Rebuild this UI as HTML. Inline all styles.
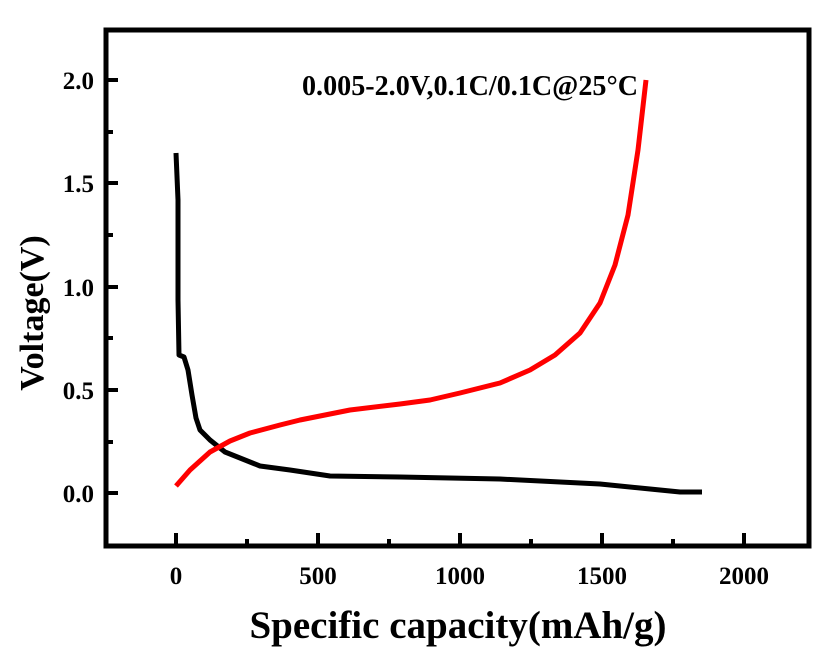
<!DOCTYPE html>
<html><head><style>body{margin:0;background:#fff}</style></head><body>
<svg width="840" height="655" xmlns="http://www.w3.org/2000/svg" font-family="Liberation Serif, serif" font-weight="bold">
<rect x="0" y="0" width="840" height="655" fill="#fff"/>
<rect x="106" y="30" width="703" height="516" fill="none" stroke="#000" stroke-width="5"/>
<g stroke="#000" stroke-width="4">
<line x1="106" y1="80" x2="118" y2="80"/><line x1="106" y1="183" x2="118" y2="183"/><line x1="106" y1="287" x2="118" y2="287"/><line x1="106" y1="390" x2="118" y2="390"/><line x1="106" y1="493" x2="118" y2="493"/>
<line x1="106" y1="132" x2="113" y2="132"/><line x1="106" y1="235" x2="113" y2="235"/><line x1="106" y1="338" x2="113" y2="338"/><line x1="106" y1="442" x2="113" y2="442"/>
<line x1="176" y1="546" x2="176" y2="533"/><line x1="318" y1="546" x2="318" y2="533"/><line x1="460" y1="546" x2="460" y2="533"/><line x1="602" y1="546" x2="602" y2="533"/><line x1="744" y1="546" x2="744" y2="533"/>
<line x1="247" y1="546" x2="247" y2="539"/><line x1="389" y1="546" x2="389" y2="539"/><line x1="531" y1="546" x2="531" y2="539"/><line x1="673" y1="546" x2="673" y2="539"/>
</g>
<g font-size="25" text-anchor="end">
<text x="94" y="89">2.0</text><text x="94" y="192">1.5</text><text x="94" y="296">1.0</text><text x="94" y="399">0.5</text><text x="94" y="502">0.0</text>
</g>
<g font-size="25" text-anchor="middle">
<text x="176" y="584">0</text><text x="318" y="584">500</text><text x="460" y="584">1000</text><text x="602" y="584">1500</text><text x="744" y="584">2000</text>
</g>
<text x="458" y="638" font-size="39" text-anchor="middle">Specific capacity(mAh/g)</text>
<text transform="translate(43,313) rotate(-90)" font-size="34" text-anchor="middle">Voltage(V)</text>
<text x="302" y="95" font-size="28" textLength="336" lengthAdjust="spacingAndGlyphs">0.005-2.0V,0.1C/0.1C@25°C</text>
<polyline fill="none" stroke="#000" stroke-width="5" stroke-linejoin="round" points="176,153 178,200 178,300 179,355 184,357 188,370 192,395 196,418 200,430 210,440 225,452 245,460 260,466 290,470 330,476 400,477 500,479 600,484 650,489 680,492 702,492"/>
<polyline fill="none" stroke="#ff0000" stroke-width="5" stroke-linejoin="round" points="176,486 190,470 210,452 230,441 250,433 280,425 300,420 350,410 400,404 430,400 460,393 500,383 530,370 555,355 580,333 600,303 615,265 628,215 638,150 646,80"/>
</svg>
</body></html>
